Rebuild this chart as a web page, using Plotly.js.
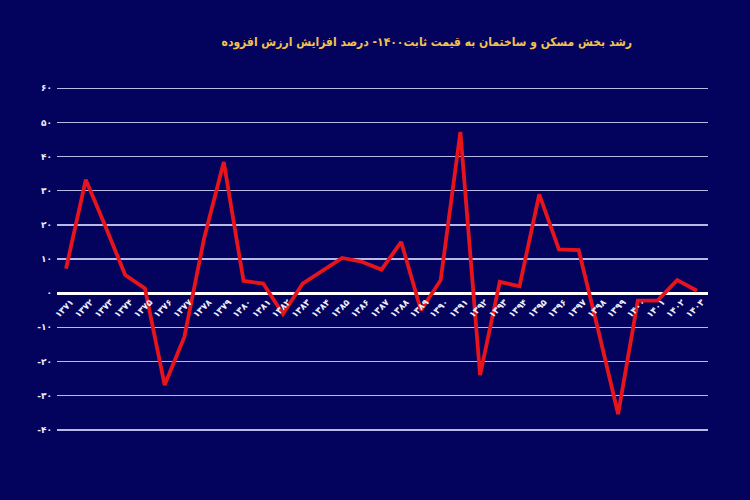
<!DOCTYPE html>
<html>
<head>
<meta charset="utf-8">
<script src="https://cdn.plot.ly/plotly-3.0.1.min.js"></script>
<style>html,body{margin:0;padding:0;background:#03035e;}#chart{width:750px;height:500px;}</style>
</head>
<body>
<div id="chart"></div>
<script>
const years = [1371,1372,1373,1374,1375,1376,1377,1378,1379,1380,1381,1382,1383,1384,1385,1386,1387,1388,1389,1390,1391,1392,1393,1394,1395,1396,1397,1398,1399,1400,1401,1402,1403];
const growth = [7.2,33.2,19.5,5.3,1.4,-26.9,-12.8,16,38.4,3.6,2.8,-6.1,2.8,6.4,10.3,9.2,6.9,15.0,-5.0,3.8,47.2,-24.0,3.3,2.0,28.9,12.8,12.6,-11,-35.4,-2.2,-2.2,3.8,0.7];
const yTickVals = [-40,-30,-20,-10,0,10,20,30,40,50,60];
const yTickText = ['-۴۰','-۳۰','-۲۰','-۱۰','۰','۱۰','۲۰','۳۰','۴۰','۵۰','۶۰'];
const titleText = 'رشد بخش مسکن و ساختمان به قیمت ثابت۱۴۰۰- درصد افزایش ارزش افزوده';

const faDigits = '۰۱۲۳۴۵۶۷۸۹';
const toFa = s => String(s).replace(/[0-9]/g, d => faDigits[+d]);
const xTickText = years.map(toFa);

const yMin = -43, yMax = 63;
const zeroPos = (0 - yMin) / (yMax - yMin);

Plotly.newPlot('chart', [{
  x: years, y: growth, type: 'scatter', mode: 'lines',
  line: {color: '#e8141c', width: 3.8},
  hoverinfo: 'x+y'
}], {
  width: 750, height: 500,
  paper_bgcolor: '#03035e', plot_bgcolor: '#03035e',
  margin: {l: 57, r: 42, t: 78, b: 60},
  showlegend: false,
  title: {text: titleText, x: 0.569, xanchor: 'center', y: 0.916, yanchor: 'middle',
          font: {family: 'DejaVu Sans Condensed, DejaVu Sans', size: 12, color: '#f2c14e', weight: 'bold'}},
  xaxis: {
    range: [1370.54, 1403.56], tickvals: years, ticktext: xTickText,
    tickangle: -45, showgrid: false, zeroline: false, showline: false,
    anchor: 'free', position: zeroPos, ticks: '',
    ticklabelshift: 5, ticklabelstandoff: 1,
    tickfont: {family: 'DejaVu Sans', size: 9, color: '#eeeef8', weight: 'bold'}
  },
  yaxis: {
    range: [yMin, yMax], tickvals: yTickVals, ticktext: yTickText,
    showgrid: true, gridcolor: '#b9b9e6', gridwidth: 1.5,
    zeroline: true, zerolinecolor: '#ffffff', zerolinewidth: 3,
    showline: false, ticks: '', ticklabelstandoff: 4,
    tickfont: {family: 'DejaVu Sans', size: 9, color: '#eeeef8', weight: 'bold'}
  }
}, {displayModeBar: false, staticPlot: true});
</script>
</body>
</html>
